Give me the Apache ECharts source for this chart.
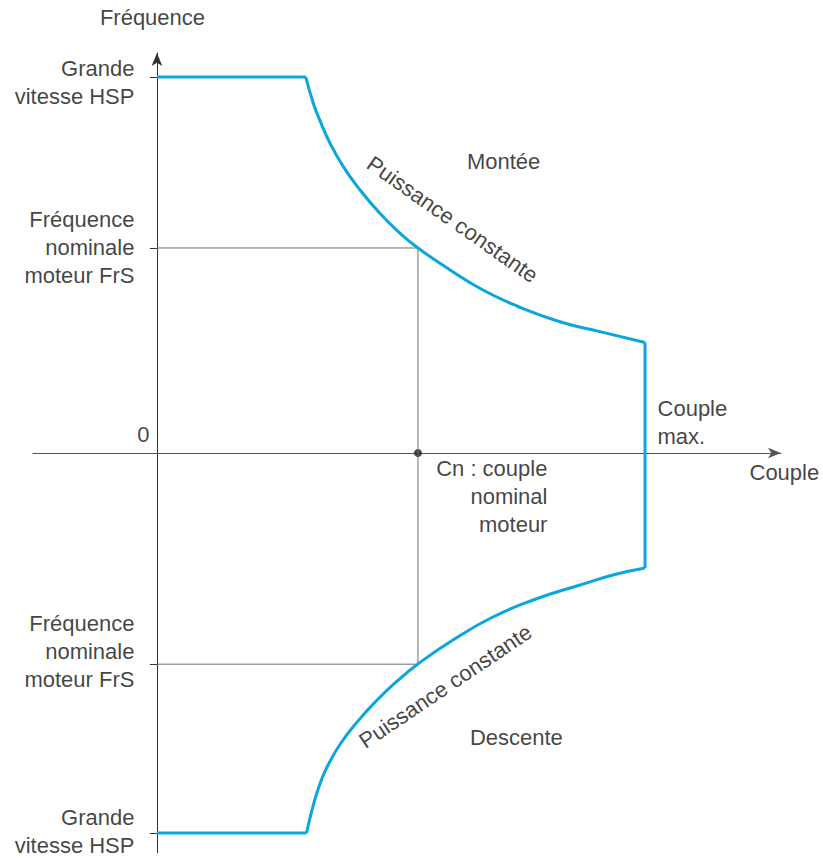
<!DOCTYPE html>
<html lang="fr">
<head>
    <meta charset="UTF-8">
    <title>Fréquence / Couple</title>
    <style>
        html, body { margin: 0; padding: 0; background: #fff; }
        #chart1 { width: 823px; height: 858px; }
    </style>
</head>
<body>
<script src="https://cdn.jsdelivr.net/npm/echarts@6.0.0/dist/echarts.min.js"></script>
<div id="chart1"></div>
<script type="text/javascript">
    var torqueUp = [57.0, 59.9, 62.5, 66.3, 71.4, 77.8, 85.4, 93.1, 100, 112.3, 124.9, 137.9, 154.4, 169.7, 187];
    var freqUp = [183.4, 170.6, 162.0, 151.1, 139.7, 128.3, 116.9, 107.2, 100, 89.3, 79.5, 71.7, 64.0, 59.2, 53.9];
    var torqueDown = [57.3, 59.3, 61.8, 65.0, 70.1, 76.5, 84.2, 92.0, 100, 113.4, 128.7, 144.1, 162.1, 174.7, 187];
    var freqDown = [-185.4, -174.7, -163.8, -153.6, -142.2, -131.5, -120.7, -111.3, -102.9, -91.2, -80.0, -71.7, -64.4, -59.5, -56.1];

    var cn = 100, cmax = 187;
    var hspUp = 183.4, frsUp = 100, frsDown = -103, hspDown = -185.4;
    var xMin = -47.5, xMax = 239.1, yMin = -195.1, yMax = 195.1;

    var freqLevels = [hspUp, frsUp, frsDown, hspDown];
    var freqLabels = ['Grande\nvitesse HSP', 'Fréquence\nnominale\nmoteur FrS', 'Fréquence\nnominale\nmoteur FrS', 'Grande\nvitesse HSP'];
    var freqLabelShift = [6, 0, -12, -1];

    var blue = '#0aa6de';
    var font = '"Liberation Sans", Arial, sans-serif';

    function pairs(xs, ys) {
        return xs.map(function (x, i) { return [x, ys[i]]; });
    }

    function note(pos, text, offset, align, rotate) {
        return {
            value: pos,
            label: {
                show: true,
                formatter: text,
                position: offset,
                align: align,
                verticalAlign: 'middle',
                rotate: rotate || 0
            }
        };
    }

    var notes = [
        note([0, yMax], 'Fréquence', [-4, -35], 'center'),
        note([xMax, 0], 'Couple', [-31, 20], 'left'),
        note([0, 0], '0', [-7, -18], 'right'),
        note([cn, 0], 'Cn : couple\nnominal\nmoteur', [130, 44], 'right'),
        note([cmax, 0], 'Couple\nmax.', [13, -30], 'left'),
        note([133, 142], 'Montée', [0, 0], 'center'),
        note([137.9, -139], 'Descente', [0, 0], 'center'),
        note([113.4, 113.7], 'Puissance constante', [0, 0], 'center', -35),
        note([110.7, -114.1], 'Puissance constante', [0, 0], 'center', 34)
    ];
    freqLevels.forEach(function (f, i) {
        notes.push(note([0, f], freqLabels[i], [-22, freqLabelShift[i]], 'right'));
    });

    var myChart1 = echarts.init(document.getElementById('chart1'), null, {renderer: 'svg'});
    myChart1.setOption({
        animation: false,
        grid: {left: 33, right: 42, top: 53, bottom: 5},
        xAxis: {
            type: 'value',
            min: xMin,
            max: xMax,
            axisLine: {
                onZero: true,
                lineStyle: {color: '#555', width: 1},
                symbol: ['none', 'arrow'],
                symbolSize: [8, 13]
            },
            axisTick: {show: false},
            axisLabel: {show: false},
            splitLine: {show: false}
        },
        yAxis: {
            type: 'value',
            min: yMin,
            max: yMax,
            axisLine: {
                onZero: true,
                lineStyle: {color: '#333', width: 1},
                symbol: ['none', 'arrow'],
                symbolSize: [8, 13]
            },
            axisTick: {show: true, length: 7, customValues: freqLevels, lineStyle: {color: '#333'}},
            axisLabel: {show: false},
            splitLine: {show: false}
        },
        series: [
            {
                name: 'nominal',
                type: 'line',
                symbol: 'none',
                lineStyle: {color: '#6e6e6e', width: 1},
                data: [[0, frsUp], [cn, frsUp], [cn, frsDown], [0, frsDown]]
            },
            {
                name: 'Cn',
                type: 'scatter',
                symbolSize: 8,
                itemStyle: {color: '#1a1a1a'},
                data: [[cn, 0]]
            },
            {
                name: 'HSP montée',
                type: 'line',
                symbol: 'none',
                lineStyle: {color: blue, width: 3},
                data: [[0, hspUp], [torqueUp[0], freqUp[0]]]
            },
            {
                name: 'Puissance constante montée',
                type: 'line',
                symbol: 'none',
                smooth: 0.5,
                lineStyle: {color: blue, width: 3},
                data: pairs(torqueUp, freqUp)
            },
            {
                name: 'Couple max.',
                type: 'line',
                symbol: 'none',
                lineStyle: {color: blue, width: 3},
                data: [[cmax, freqUp[freqUp.length - 1]], [cmax, freqDown[freqDown.length - 1]]]
            },
            {
                name: 'Puissance constante descente',
                type: 'line',
                symbol: 'none',
                smooth: 0.5,
                lineStyle: {color: blue, width: 3},
                data: pairs(torqueDown, freqDown)
            },
            {
                name: 'HSP descente',
                type: 'line',
                symbol: 'none',
                lineStyle: {color: blue, width: 3},
                data: [[torqueDown[0], freqDown[0]], [0, hspDown]]
            },
            {
                name: 'textes',
                type: 'scatter',
                symbolSize: 1,
                silent: true,
                itemStyle: {color: 'transparent'},
                label: {
                    show: true,
                    color: '#111',
                    fontSize: 22,
                    fontFamily: font,
                    lineHeight: 28
                },
                data: notes
            }
        ]
    });
</script>
</body>
</html>
